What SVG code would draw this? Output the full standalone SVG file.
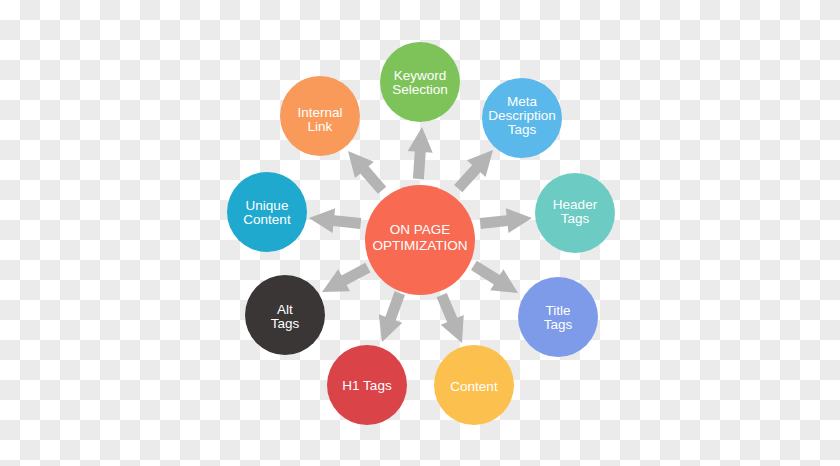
<svg xmlns="http://www.w3.org/2000/svg" xmlns:xlink="http://www.w3.org/1999/xlink" width="840" height="466" viewBox="0 0 840 466">
<defs>
<pattern id="checker" x="0" y="0" width="40" height="40" patternUnits="userSpaceOnUse">
<rect width="40" height="40" fill="#ffffff"/>
<rect x="20" y="0" width="20" height="20" fill="#ebebeb"/>
<rect x="0" y="20" width="20" height="20" fill="#ebebeb"/>
</pattern>
<path id="arrow" d="M-52,-5.5 L-25,-5.5 L-25,-12.5 L0,0 L-25,12.5 L-25,5.5 L-52,5.5 Z"/>
</defs>
<style>
.arr { fill: #b4b4b4; }
.lbl { font-family: "Liberation Sans", Arial, sans-serif; font-size: 13.5px; fill: #ffffff; text-anchor: middle; }
.main { font-family: "Liberation Sans", Arial, sans-serif; font-size: 13.5px; fill: #ffffff; text-anchor: middle; }
</style>
<rect width="840" height="466" fill="url(#checker)"/>
<g id="connectors">
<use xlink:href="#arrow" class="arr" transform="translate(422,127) rotate(-86)"/>
<use xlink:href="#arrow" class="arr" transform="translate(348,151) rotate(-131)"/>
<use xlink:href="#arrow" class="arr" transform="translate(493,150) rotate(-48)"/>
<use xlink:href="#arrow" class="arr" transform="translate(309,218) rotate(-174)"/>
<use xlink:href="#arrow" class="arr" transform="translate(532,218) rotate(-6)"/>
<use xlink:href="#arrow" class="arr" transform="translate(322,292) rotate(152)"/>
<use xlink:href="#arrow" class="arr" transform="translate(518,293) rotate(32)"/>
<use xlink:href="#arrow" class="arr" transform="translate(382,342) rotate(110)"/>
<use xlink:href="#arrow" class="arr" transform="translate(462,343) rotate(67)"/>
</g>
<g id="center">
<circle cx="420" cy="240" r="55" fill="#f96a52"/>
<text class="main" x="420" y="234">ON PAGE</text>
<text class="main" x="420" y="250">OPTIMIZATION</text>
</g>
<g id="keyword">
<circle cx="420" cy="82" r="40" fill="#7ec35a"/>
<text class="lbl" x="420" y="80">Keyword</text>
<text class="lbl" x="420" y="94">Selection</text>
</g>
<g id="internal">
<circle cx="320" cy="116" r="40" fill="#f99a5a"/>
<text class="lbl" x="320" y="117">Internal</text>
<text class="lbl" x="320" y="131">Link</text>
</g>
<g id="meta">
<circle cx="522" cy="118" r="40" fill="#5ab9ea"/>
<text class="lbl" x="522" y="106">Meta</text>
<text class="lbl" x="522" y="120">Description</text>
<text class="lbl" x="522" y="134">Tags</text>
</g>
<g id="unique">
<circle cx="267" cy="212" r="40" fill="#1fa9cf"/>
<text class="lbl" x="267" y="210">Unique</text>
<text class="lbl" x="267" y="224">Content</text>
</g>
<g id="header">
<circle cx="575" cy="213" r="40" fill="#6ccbc2"/>
<text class="lbl" x="575" y="209">Header</text>
<text class="lbl" x="575" y="223">Tags</text>
</g>
<g id="alt">
<circle cx="285" cy="315" r="40" fill="#3a3636"/>
<text class="lbl" x="285" y="314">Alt</text>
<text class="lbl" x="285" y="328">Tags</text>
</g>
<g id="title">
<circle cx="558" cy="317" r="40" fill="#7d9be9"/>
<text class="lbl" x="558" y="315">Title</text>
<text class="lbl" x="558" y="329">Tags</text>
</g>
<g id="h1">
<circle cx="367" cy="385" r="40" fill="#da4448"/>
<text class="lbl" x="367" y="390">H1 Tags</text>
</g>
<g id="content">
<circle cx="474" cy="385" r="40" fill="#fcc04f"/>
<text class="lbl" x="474" y="391">Content</text>
</g>
</svg>
